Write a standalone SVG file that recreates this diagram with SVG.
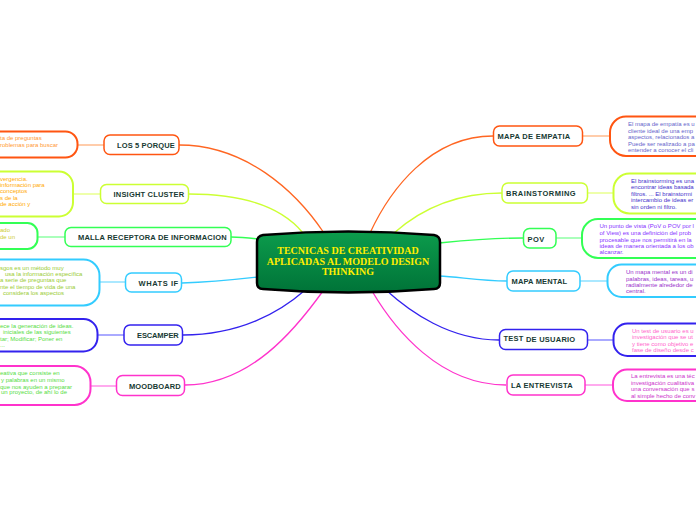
<svg xmlns="http://www.w3.org/2000/svg" width="696" height="520" viewBox="0 0 696 520">
<defs>
<linearGradient id="cg" x1="0" y1="0" x2="0" y2="1">
<stop offset="0" stop-color="#0c9c4c"/>
<stop offset="1" stop-color="#007338"/>
</linearGradient>
<style>
.lbl{font-family:"Liberation Sans",Arial,sans-serif;font-weight:bold;font-size:7.5px;fill:#173a33;letter-spacing:0.3px}
.leaf{font-family:"Liberation Sans",Arial,sans-serif;font-size:6px}
.node{fill:#ffffff;stroke-width:1.5}
.bub{fill:#ffffff;stroke-width:2}
.main{fill:none;stroke-width:1.3}
.twig{fill:none;stroke-width:2}
.ctr{font-family:"Liberation Serif","Times New Roman",serif;font-weight:bold;font-size:10px;fill:#ffee00;text-anchor:middle}
</style>
</defs>
<rect width="696" height="520" fill="#ffffff"/>
<g id="connectors">
<path class="main" stroke="#ff6622" d="M179,145 C245,145 295,190 324,233"/>
<path class="main" stroke="#ccff33" d="M189,194 C240,194 280,205 303,233"/>
<path class="main" stroke="#33ff55" d="M231,237 C242,237 250,238 258,239"/>
<path class="main" stroke="#33ccff" d="M182,283 C215,282 240,279 258,277"/>
<path class="main" stroke="#3322ee" d="M183,335 C240,335 280,312 304,291"/>
<path class="main" stroke="#ff33cc" d="M185,385 C250,385 295,330 323,291"/>
<path class="main" stroke="#ff6622" d="M493,136 C430,136 390,190 370,233"/>
<path class="main" stroke="#ccff33" d="M502,193 C455,193 420,210 394,233"/>
<path class="main" stroke="#33ff55" d="M523,238 C490,238 460,241 439,243"/>
<path class="main" stroke="#33ccff" d="M507,281 C480,281 460,277 439,276"/>
<path class="main" stroke="#3322ee" d="M499,340 C450,340 410,312 386,290"/>
<path class="main" stroke="#ff33cc" d="M506,385 C440,385 395,330 372,291"/>
<path class="twig" stroke="#ffccaa" d="M77,145 L104,145"/>
<path class="twig" stroke="#eeffaa" d="M73,194 L101,194"/>
<path class="twig" stroke="#aaffbb" d="M38,237 L65,237"/>
<path class="twig" stroke="#aae8ff" d="M99,282 L126,282"/>
<path class="twig" stroke="#aaaaff" d="M97,335 L124,335"/>
<path class="twig" stroke="#ffaaee" d="M90,386 L117,386"/>
<path class="twig" stroke="#ffccaa" d="M582,136 L610,136"/>
<path class="twig" stroke="#eeffaa" d="M587,193 L613,193"/>
<path class="twig" stroke="#aaffbb" d="M556,238 L582,238"/>
<path class="twig" stroke="#aae8ff" d="M580,281 L607,281"/>
<path class="twig" stroke="#aaaaff" d="M587,340 L613,340"/>
<path class="twig" stroke="#ffaaee" d="M585,385 L613,385"/>
</g>
<g id="center">
<path d="M263,235 Q348,228 434,235 Q440,236 440,242 L440,283 Q440,289 434,289 Q348,296 263,289 Q257,289 257,283 L257,242 Q257,236 263,235 Z" fill="url(#cg)" stroke="#000000" stroke-width="2.5"/>
<text class="ctr" x="348" y="254">TECNICAS DE CREATIVIDAD</text>
<text class="ctr" x="348" y="264.5">APLICADAS AL MODELO DESIGN</text>
<text class="ctr" x="348" y="275">THINKING</text>
</g>
<g id="n-los5">
<rect class="node" x="104" y="135" width="75" height="19.5" rx="6" stroke="#ff5511"/>
<text class="lbl" x="117" y="147.5" textLength="58">LOS 5 PORQUE</text>
</g>
<g id="l-los5">
<rect class="bub" x="-40" y="131.5" width="117.5" height="26" rx="12" stroke="#ff5511"/>
<text class="leaf" fill="#ff9933"><tspan x="0" y="139.5">ta de preguntas</tspan><tspan x="0" y="147">roblemas para buscar</tspan></text>
</g>
<g id="n-insight">
<rect class="node" x="100.5" y="184.5" width="88" height="19" rx="6" stroke="#ccff33"/>
<text class="lbl" x="113.5" y="197" textLength="71">INSIGHT CLUSTER</text>
</g>
<g id="l-insight">
<rect class="bub" x="-40" y="171.5" width="113" height="45" rx="14" stroke="#ccff33"/>
<text class="leaf" fill="#ffaa00"><tspan x="0" y="180.5">vergencia.</tspan><tspan x="0" y="186.5">información para</tspan><tspan x="0" y="193">conceptos</tspan><tspan x="0" y="199.5">s de la</tspan><tspan x="0" y="206">de acción y</tspan></text>
</g>
<g id="n-malla">
<rect class="node" x="65" y="227.5" width="166" height="19" rx="6" stroke="#33ff55"/>
<text class="lbl" x="78" y="240" textLength="149">MALLA RECEPTORA DE INFORMACION</text>
</g>
<g id="l-malla">
<rect class="bub" x="-40" y="223" width="77.5" height="26" rx="10" stroke="#33ff55"/>
<text class="leaf" fill="#cccc33"><tspan x="0" y="232">ado</tspan><tspan x="0" y="238.5">de un</tspan></text>
</g>
<g id="n-whatsif">
<rect class="node" x="125.5" y="273" width="56" height="19" rx="6" stroke="#33ccff"/>
<text class="lbl" x="138.5" y="285.5" textLength="40">WHATS IF</text>
</g>
<g id="l-whatsif">
<rect class="bub" x="-40" y="259.5" width="139.5" height="46" rx="16" stroke="#33ccff"/>
<text class="leaf" fill="#99cc33"><tspan x="0" y="269.5">sgos es un método muy</tspan><tspan x="5" y="275.5">usa la información específica</tspan><tspan x="0" y="282">a serie de preguntas que</tspan><tspan x="0" y="288.5">nte el tiempo de vida de una</tspan><tspan x="3" y="295">considera los aspectos</tspan></text>
</g>
<g id="n-escamper">
<rect class="node" x="124" y="325" width="58.5" height="20" rx="6" stroke="#3322ee"/>
<text class="lbl" x="137" y="338" textLength="42">ESCAMPER</text>
</g>
<g id="l-escamper">
<rect class="bub" x="-40" y="319" width="137.5" height="32.5" rx="14" stroke="#3322ee"/>
<text class="leaf" fill="#55dd44"><tspan x="0" y="328">ece la generación de ideas.</tspan><tspan x="3" y="334">iniciales de las siguientes</tspan><tspan x="0" y="341">tar; Modificar; Poner en</tspan><tspan x="0" y="347">...</tspan></text>
</g>
<g id="n-moodboard">
<rect class="node" x="116.5" y="375.5" width="68" height="20" rx="6" stroke="#ff33cc"/>
<text class="lbl" x="129" y="388.5" textLength="52">MOODBOARD</text>
</g>
<g id="l-moodboard">
<rect class="bub" x="-40" y="366" width="130.5" height="39" rx="16" stroke="#ff33cc"/>
<text class="leaf" fill="#55dd44"><tspan x="0" y="374.5">eativa que consiste en</tspan><tspan x="1" y="382">y palabras en un mismo</tspan><tspan x="0" y="388.5">que nos ayuden a preparar</tspan><tspan x="1" y="394">un proyecto, de ahí lo de</tspan></text>
</g>
<g id="n-empatia">
<rect class="node" x="493.5" y="126" width="89" height="20" rx="6" stroke="#ff5511"/>
<text class="lbl" x="497.5" y="139" textLength="73">MAPA DE EMPATIA</text>
</g>
<g id="l-empatia">
<rect class="bub" x="610" y="116.5" width="120" height="39.5" rx="16" stroke="#ff5511"/>
<text class="leaf" fill="#6666cc"><tspan x="628" y="126">El mapa de empatía es u</tspan><tspan x="628" y="132.5">cliente ideal de una emp</tspan><tspan x="628" y="139">aspectos, relacionados a</tspan><tspan x="628" y="145.5">Puede ser realizado a pa</tspan><tspan x="628" y="151.5">entender a conocer el cli</tspan></text>
</g>
<g id="n-brain">
<rect class="node" x="502" y="183" width="85.5" height="20" rx="6" stroke="#ccff33"/>
<text class="lbl" x="506" y="196" textLength="70">BRAINSTORMING</text>
</g>
<g id="l-brain">
<rect class="bub" x="613.5" y="173.5" width="120" height="40" rx="16" stroke="#ccff33"/>
<text class="leaf" fill="#4433cc"><tspan x="631" y="183">El brainstorming es una</tspan><tspan x="631" y="189">encontrar ideas basada</tspan><tspan x="631" y="195.5">filtros. ... El brainstormi</tspan><tspan x="631" y="202">intercambio de ideas er</tspan><tspan x="631" y="208.5">sin orden ni filtro.</tspan></text>
</g>
<g id="n-pov">
<rect class="node" x="523.5" y="228.5" width="32.5" height="19.5" rx="6" stroke="#33ff55"/>
<text class="lbl" x="527.5" y="241.5" textLength="17">POV</text>
</g>
<g id="l-pov">
<rect class="bub" x="582" y="219" width="150" height="39" rx="16" stroke="#33ff55"/>
<text class="leaf" fill="#8833ff"><tspan x="599.5" y="228">Un punto de vista (PoV o POV por l</tspan><tspan x="599.5" y="235">of View) es una definición del prob</tspan><tspan x="599.5" y="241.5">procesable que nos permitirá en la</tspan><tspan x="599.5" y="248">ideas de manera orientada a los ob</tspan><tspan x="599.5" y="254">alcanzar.</tspan></text>
</g>
<g id="n-mental">
<rect class="node" x="507" y="271" width="73" height="20" rx="6" stroke="#33ccff"/>
<text class="lbl" x="511.5" y="284" textLength="56">MAPA MENTAL</text>
</g>
<g id="l-mental">
<rect class="bub" x="607.5" y="264.5" width="120" height="32.5" rx="14" stroke="#33ccff"/>
<text class="leaf" fill="#9933cc"><tspan x="626" y="274">Un mapa mental es un di</tspan><tspan x="626" y="280.5">palabras, ideas, tareas, u</tspan><tspan x="626" y="287">radialmente alrededor de</tspan><tspan x="626" y="293">central.</tspan></text>
</g>
<g id="n-test">
<rect class="node" x="499.5" y="329.5" width="88" height="20" rx="6" stroke="#3322ee"/>
<text class="lbl" x="503.5" y="342" textLength="72"><tspan dy="-0.8">TEST</tspan><tspan dy="0.8"> DE USUARIO</tspan></text>
</g>
<g id="l-test">
<rect class="bub" x="613.5" y="323.5" width="120" height="32.5" rx="14" stroke="#3322ee"/>
<text class="leaf" fill="#ff66cc"><tspan x="632" y="333">Un test de usuario es u</tspan><tspan x="632" y="339">investigación que se ut</tspan><tspan x="632" y="345.5">y tiene como objetivo e</tspan><tspan x="632" y="351.5">fase de diseño desde c</tspan></text>
</g>
<g id="n-entrevista">
<rect class="node" x="507" y="375" width="78" height="20" rx="6" stroke="#ff33cc"/>
<text class="lbl" x="511" y="388" textLength="62">LA ENTREVISTA</text>
</g>
<g id="l-entrevista">
<rect class="bub" x="613" y="369.5" width="120" height="31.5" rx="14" stroke="#ff33cc"/>
<text class="leaf" fill="#cc33cc"><tspan x="631" y="377.5">La entrevista es una téc</tspan><tspan x="631" y="384.5">investigación cualitativa</tspan><tspan x="631" y="391">una conversación que s</tspan><tspan x="631" y="397.5">al simple hecho de conv</tspan></text>
</g>
</svg>
